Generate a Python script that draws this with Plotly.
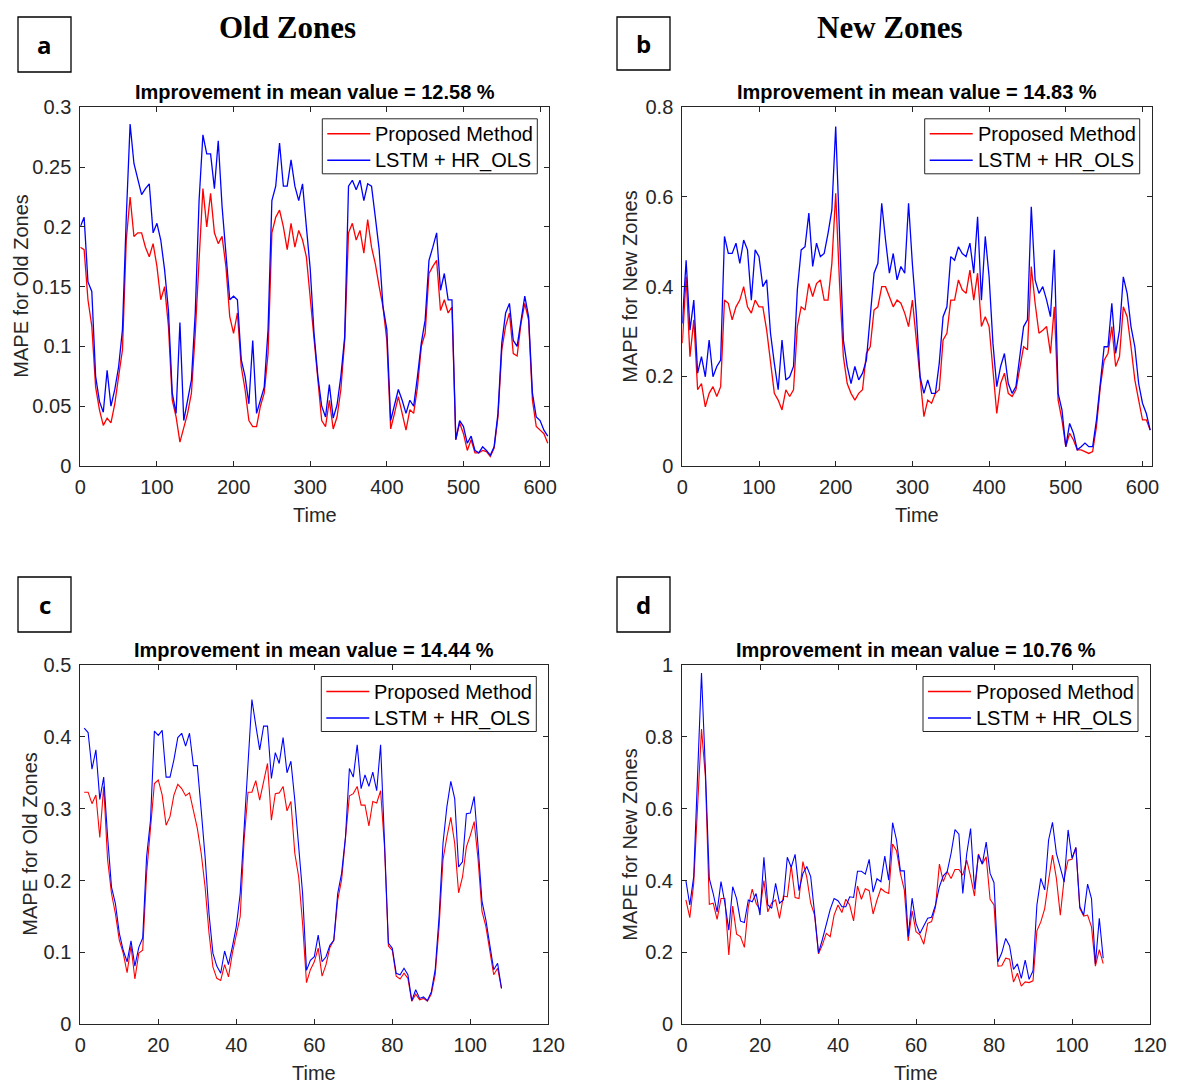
import plotly.graph_objects as go

# page body has an 8px margin, so the figure is drawn 8px smaller and shifted
OFF = 8
W, H = 1177 - OFF, 1086 - OFF

# ---------------- data ----------------
time_ab = list(range(0, 611, 5))

old_lstm = [0.200, 0.208, 0.154, 0.146, 0.075, 0.054, 0.045, 0.080, 0.050, 0.064,
            0.083, 0.114, 0.208, 0.286, 0.253, 0.241, 0.227, 0.232, 0.236, 0.195,
            0.203, 0.189, 0.164, 0.130, 0.061, 0.044, 0.120, 0.038, 0.055, 0.072,
            0.128, 0.222, 0.277, 0.261, 0.261, 0.232, 0.272, 0.217, 0.178, 0.139,
            0.142, 0.139, 0.089, 0.075, 0.052, 0.105, 0.044, 0.055, 0.066, 0.114,
            0.222, 0.234, 0.270, 0.234, 0.234, 0.256, 0.234, 0.222, 0.236, 0.200,
            0.165, 0.111, 0.075, 0.050, 0.041, 0.068, 0.040, 0.051, 0.075, 0.108,
            0.234, 0.239, 0.231, 0.239, 0.222, 0.236, 0.234, 0.208, 0.181, 0.133,
            0.114, 0.038, 0.050, 0.064, 0.055, 0.044, 0.055, 0.050, 0.075, 0.103,
            0.122, 0.172, 0.183, 0.195, 0.147, 0.161, 0.139, 0.139, 0.022, 0.038,
            0.033, 0.019, 0.025, 0.013, 0.011, 0.016, 0.013, 0.009, 0.016, 0.044,
            0.103, 0.128, 0.136, 0.105, 0.100, 0.122, 0.142, 0.125, 0.061, 0.041,
            0.038, 0.030, 0.025]

old_prop = [0.183, 0.181, 0.139, 0.117, 0.066, 0.047, 0.034, 0.040, 0.036, 0.052,
            0.075, 0.097, 0.189, 0.225, 0.192, 0.195, 0.195, 0.183, 0.175, 0.186,
            0.167, 0.139, 0.150, 0.117, 0.055, 0.041, 0.020, 0.033, 0.044, 0.061,
            0.111, 0.172, 0.232, 0.200, 0.228, 0.195, 0.186, 0.192, 0.167, 0.125,
            0.111, 0.128, 0.083, 0.064, 0.038, 0.033, 0.033, 0.050, 0.061, 0.094,
            0.195, 0.208, 0.214, 0.200, 0.181, 0.203, 0.183, 0.197, 0.189, 0.175,
            0.142, 0.105, 0.072, 0.038, 0.033, 0.055, 0.031, 0.041, 0.064, 0.105,
            0.195, 0.203, 0.189, 0.197, 0.178, 0.206, 0.183, 0.169, 0.150, 0.133,
            0.105, 0.031, 0.044, 0.058, 0.044, 0.030, 0.047, 0.044, 0.066, 0.100,
            0.111, 0.161, 0.167, 0.172, 0.130, 0.139, 0.128, 0.133, 0.022, 0.036,
            0.027, 0.013, 0.022, 0.011, 0.011, 0.013, 0.012, 0.008, 0.015, 0.041,
            0.097, 0.117, 0.128, 0.094, 0.092, 0.119, 0.136, 0.122, 0.055, 0.033,
            0.030, 0.027, 0.019]

new_lstm = [0.318, 0.459, 0.303, 0.370, 0.207, 0.244, 0.199, 0.281, 0.199, 0.222,
            0.236, 0.512, 0.474, 0.474, 0.497, 0.452, 0.504, 0.482, 0.370, 0.482,
            0.467, 0.400, 0.415, 0.296, 0.229, 0.170, 0.281, 0.192, 0.199, 0.222,
            0.393, 0.482, 0.489, 0.564, 0.445, 0.497, 0.467, 0.474, 0.519, 0.571,
            0.757, 0.519, 0.281, 0.222, 0.184, 0.222, 0.192, 0.207, 0.236, 0.333,
            0.430, 0.452, 0.586, 0.504, 0.430, 0.474, 0.415, 0.445, 0.430, 0.586,
            0.450, 0.341, 0.199, 0.162, 0.192, 0.162, 0.162, 0.229, 0.333, 0.355,
            0.467, 0.459, 0.489, 0.474, 0.467, 0.497, 0.430, 0.556, 0.370, 0.512,
            0.422, 0.274, 0.177, 0.222, 0.251, 0.184, 0.162, 0.177, 0.251, 0.311,
            0.326, 0.578, 0.415, 0.385, 0.400, 0.370, 0.333, 0.482, 0.162, 0.125,
            0.043, 0.095, 0.073, 0.036, 0.043, 0.051, 0.043, 0.043, 0.103, 0.184,
            0.266, 0.266, 0.363, 0.251, 0.303, 0.422, 0.385, 0.311, 0.266, 0.184,
            0.140, 0.117, 0.080]

new_prop = [0.274, 0.422, 0.244, 0.326, 0.170, 0.184, 0.132, 0.162, 0.177, 0.155,
            0.177, 0.370, 0.363, 0.326, 0.355, 0.370, 0.400, 0.355, 0.341, 0.370,
            0.355, 0.355, 0.303, 0.229, 0.162, 0.147, 0.125, 0.170, 0.155, 0.170,
            0.311, 0.355, 0.348, 0.407, 0.378, 0.407, 0.415, 0.370, 0.370, 0.452,
            0.608, 0.407, 0.244, 0.184, 0.162, 0.147, 0.162, 0.170, 0.251, 0.266,
            0.348, 0.355, 0.400, 0.400, 0.378, 0.355, 0.370, 0.363, 0.341, 0.311,
            0.370, 0.281, 0.192, 0.110, 0.147, 0.140, 0.162, 0.170, 0.281, 0.296,
            0.370, 0.370, 0.415, 0.393, 0.385, 0.437, 0.370, 0.430, 0.311, 0.333,
            0.311, 0.207, 0.117, 0.184, 0.207, 0.162, 0.155, 0.170, 0.222, 0.266,
            0.259, 0.445, 0.363, 0.296, 0.303, 0.311, 0.251, 0.355, 0.147, 0.103,
            0.043, 0.073, 0.058, 0.036, 0.036, 0.032, 0.028, 0.032, 0.088, 0.177,
            0.236, 0.251, 0.311, 0.222, 0.244, 0.355, 0.333, 0.266, 0.192, 0.147,
            0.103, 0.103, 0.080]

time_cd = list(range(1, 109))

old2_lstm = [0.412, 0.406, 0.355, 0.382, 0.313, 0.344, 0.261, 0.191, 0.168, 0.127,
             0.103, 0.087, 0.116, 0.081, 0.107, 0.120, 0.233, 0.284, 0.408, 0.402,
             0.409, 0.344, 0.344, 0.368, 0.399, 0.405, 0.387, 0.405, 0.360, 0.360,
             0.298, 0.233, 0.154, 0.099, 0.081, 0.071, 0.102, 0.083, 0.108, 0.136,
             0.182, 0.270, 0.363, 0.452, 0.416, 0.382, 0.415, 0.415, 0.342, 0.378,
             0.363, 0.399, 0.350, 0.366, 0.312, 0.247, 0.182, 0.075, 0.089, 0.094,
             0.124, 0.087, 0.094, 0.110, 0.117, 0.182, 0.210, 0.261, 0.356, 0.344,
             0.389, 0.328, 0.347, 0.331, 0.351, 0.325, 0.389, 0.254, 0.113, 0.106,
             0.071, 0.069, 0.078, 0.069, 0.033, 0.048, 0.036, 0.038, 0.033, 0.045,
             0.076, 0.150, 0.252, 0.303, 0.338, 0.314, 0.219, 0.226, 0.293, 0.294,
             0.317, 0.247, 0.171, 0.145, 0.108, 0.076, 0.085, 0.050]

old2_prop = [0.323, 0.323, 0.307, 0.319, 0.260, 0.331, 0.229, 0.182, 0.154, 0.117,
             0.099, 0.072, 0.109, 0.063, 0.099, 0.103, 0.210, 0.275, 0.335, 0.340,
             0.319, 0.277, 0.289, 0.319, 0.334, 0.328, 0.318, 0.322, 0.296, 0.273,
             0.238, 0.191, 0.127, 0.080, 0.064, 0.061, 0.083, 0.066, 0.099, 0.127,
             0.150, 0.256, 0.323, 0.323, 0.339, 0.312, 0.338, 0.363, 0.284, 0.321,
             0.322, 0.331, 0.297, 0.310, 0.238, 0.205, 0.140, 0.058, 0.076, 0.087,
             0.106, 0.067, 0.083, 0.107, 0.117, 0.173, 0.201, 0.256, 0.318, 0.321,
             0.331, 0.305, 0.305, 0.276, 0.310, 0.308, 0.325, 0.247, 0.109, 0.103,
             0.067, 0.063, 0.071, 0.064, 0.032, 0.042, 0.034, 0.036, 0.032, 0.042,
             0.069, 0.136, 0.229, 0.261, 0.288, 0.252, 0.183, 0.205, 0.247, 0.263,
             0.282, 0.229, 0.157, 0.136, 0.099, 0.069, 0.078, 0.050]

new2_lstm = [0.400, 0.332, 0.411, 0.680, 0.978, 0.707, 0.406, 0.364, 0.313, 0.397,
             0.337, 0.262, 0.383, 0.350, 0.287, 0.283, 0.346, 0.341, 0.364, 0.304,
             0.465, 0.332, 0.323, 0.392, 0.337, 0.346, 0.465, 0.437, 0.473, 0.372,
             0.420, 0.439, 0.411, 0.309, 0.199, 0.236, 0.281, 0.320, 0.350, 0.344,
             0.327, 0.327, 0.355, 0.353, 0.426, 0.426, 0.418, 0.459, 0.368, 0.405,
             0.397, 0.468, 0.401, 0.561, 0.513, 0.427, 0.427, 0.244, 0.351, 0.281,
             0.253, 0.272, 0.295, 0.298, 0.332, 0.383, 0.413, 0.425, 0.476, 0.542,
             0.529, 0.364, 0.474, 0.545, 0.376, 0.471, 0.446, 0.507, 0.420, 0.394,
             0.174, 0.199, 0.239, 0.218, 0.153, 0.168, 0.128, 0.179, 0.125, 0.149,
             0.332, 0.406, 0.374, 0.513, 0.562, 0.476, 0.439, 0.396, 0.541, 0.462,
             0.492, 0.327, 0.304, 0.390, 0.350, 0.168, 0.295, 0.184]

new2_prop = [0.346, 0.297, 0.392, 0.624, 0.822, 0.689, 0.334, 0.337, 0.292, 0.350,
             0.350, 0.193, 0.329, 0.251, 0.244, 0.214, 0.327, 0.376, 0.337, 0.318,
             0.400, 0.313, 0.338, 0.346, 0.295, 0.357, 0.355, 0.442, 0.353, 0.350,
             0.453, 0.409, 0.337, 0.304, 0.196, 0.221, 0.253, 0.244, 0.304, 0.332,
             0.311, 0.348, 0.332, 0.288, 0.385, 0.348, 0.377, 0.372, 0.307, 0.346,
             0.378, 0.369, 0.364, 0.502, 0.483, 0.420, 0.374, 0.232, 0.316, 0.258,
             0.249, 0.223, 0.281, 0.286, 0.327, 0.446, 0.397, 0.425, 0.406, 0.431,
             0.431, 0.415, 0.457, 0.412, 0.357, 0.474, 0.446, 0.466, 0.348, 0.332,
             0.162, 0.163, 0.184, 0.181, 0.118, 0.142, 0.106, 0.118, 0.116, 0.121,
             0.260, 0.285, 0.322, 0.401, 0.471, 0.406, 0.304, 0.406, 0.457, 0.459,
             0.492, 0.323, 0.301, 0.304, 0.271, 0.162, 0.208, 0.169]

series_names = ["Proposed Method", "LSTM + HR_OLS"]
series_colors = ["#ff0000", "#0000ff"]
panel_titles = ["Improvement in mean value = 12.58 %", "Improvement in mean value = 14.83 %",
                "Improvement in mean value = 14.44 %", "Improvement in mean value = 10.76 %"]
ylabels = ["MAPE for Old Zones", "MAPE for New Zones", "MAPE for Old Zones", "MAPE for New Zones"]
panel_letters = ["a", "b", "c", "d"]
column_titles = ["Old Zones", "New Zones"]

# ---------------- helpers (reference-pixel -> paper) ----------------
def X(px):
    return (px - OFF) / W

def Y(py):
    return 1 - (py - OFF) / H

AX = "#262626"
FAM = "Liberation Sans, Arial, Helvetica"
TICKFONT = dict(family=FAM, size=20, color=AX)
LABFONT = dict(family=FAM, size=20, color=AX)

# axes pixel boxes in reference pixels: (left, right, top, bottom)
boxes = [(80.3, 549.3, 107.3, 466.0),
         (682.3, 1151.7, 107.3, 466.0),
         (80.3, 548.3, 665.0, 1024.3),
         (682.0, 1150.0, 665.0, 1024.3)]

panels = [
    (time_ab, old_prop, old_lstm, [0, 612], [0, 0.3], [0, 0.05, 0.1, 0.15, 0.2, 0.25, 0.3],
     ["0", "0.05", "0.1", "0.15", "0.2", "0.25", "0.3"], [0, 100, 200, 300, 400, 500, 600], 1.3),
    (time_ab, new_prop, new_lstm, [0, 612], [0, 0.8], [0, 0.2, 0.4, 0.6, 0.8],
     ["0", "0.2", "0.4", "0.6", "0.8"], [0, 100, 200, 300, 400, 500, 600], 1.3),
    (time_cd, old2_prop, old2_lstm, [0, 120], [0, 0.5], [0, 0.1, 0.2, 0.3, 0.4, 0.5],
     ["0", "0.1", "0.2", "0.3", "0.4", "0.5"], [0, 20, 40, 60, 80, 100, 120], 1.1),
    (time_cd, new2_prop, new2_lstm, [0, 120], [0, 1], [0, 0.2, 0.4, 0.6, 0.8, 1.0],
     ["0", "0.2", "0.4", "0.6", "0.8", "1"], [0, 20, 40, 60, 80, 100, 120], 1.1),
]

fig = go.Figure()
layout = dict(width=W, height=H, autosize=False, showlegend=False,
              margin=dict(l=0, r=0, t=0, b=0, pad=0, autoexpand=False),
              paper_bgcolor="white", plot_bgcolor="white")
annotations = []
shapes = []

for i, (tx, prop, lstm, xr, yr, yt, ytl, xt, lw) in enumerate(panels):
    n = i + 1
    sfx = "" if n == 1 else str(n)
    l, r, t, b = boxes[i]
    for name, col, ys in zip(series_names, series_colors, [prop, lstm]):
        fig.add_trace(go.Scatter(x=tx, y=ys, mode="lines", name=name,
                                 line=dict(color=col, width=lw),
                                 xaxis="x" + sfx, yaxis="y" + sfx))
    common = dict(showline=True, linecolor=AX, linewidth=1, mirror="ticks",
                  ticks="inside", ticklen=5, tickcolor=AX, tickwidth=1,
                  showgrid=False, zeroline=False, tickfont=TICKFONT, automargin=False)
    layout["xaxis" + sfx] = dict(domain=[X(l), X(r)], range=xr, tickvals=xt,
                                 anchor="y" + sfx, ticklabelstandoff=3, **common)
    layout["yaxis" + sfx] = dict(domain=[Y(b), Y(t)], range=yr, tickvals=yt, ticktext=ytl,
                                 anchor="x" + sfx, ticklabelstandoff=4, **common)

    # legend box (drawn by hand to match the reference's compact MATLAB legend)
    lx0, lx1, ly0, ly1 = r - 227, r - 12, t + 11.5, t + 66.5
    shapes.append(dict(type="rect", xref="paper", yref="paper",
                       x0=X(lx0), x1=X(lx1), y0=Y(ly1), y1=Y(ly0),
                       line=dict(color=AX, width=1), fillcolor="white", layer="above"))
    for j, (name, col) in enumerate(zip(series_names, series_colors)):
        yy = ly0 + 15 + 26.5 * j
        shapes.append(dict(type="line", xref="paper", yref="paper",
                           x0=X(lx0 + 5), x1=X(lx0 + 48), y0=Y(yy), y1=Y(yy),
                           line=dict(color=col, width=1.5), layer="above"))
        annotations.append(dict(x=X(lx0 + 51), y=Y(yy + 0.5), xref="paper", yref="paper",
                                text=name, showarrow=False,
                                font=dict(family=FAM, size=20, color="black"),
                                xanchor="left", yanchor="middle"))

    cx = (l + r) / 2
    annotations.append(dict(x=X(cx), y=Y(t - 15), xref="paper", yref="paper",
                            text="<b>" + panel_titles[i] + "</b>", showarrow=False,
                            font=dict(family=FAM, size=20, color="black"),
                            xanchor="center", yanchor="middle"))
    annotations.append(dict(x=X(cx), y=Y(b + 49), xref="paper", yref="paper",
                            text="Time", showarrow=False, font=LABFONT,
                            xanchor="center", yanchor="middle"))
    ylx = 21 if i == 0 else (630 if i in (1, 3) else 30)
    annotations.append(dict(x=X(ylx), y=Y((t + b) / 2), xref="paper", yref="paper",
                            text=ylabels[i], showarrow=False, font=LABFONT, textangle=-90,
                            xanchor="center", yanchor="middle"))

# letter boxes
letter_boxes = [(18, 17, 71, 72), (617, 17, 670, 70), (18, 577, 71, 632), (617, 577, 670, 632)]
for (x0, y0, x1, y1), letter in zip(letter_boxes, panel_letters):
    shapes.append(dict(type="rect", xref="paper", yref="paper",
                       x0=X(x0), x1=X(x1), y0=Y(y1), y1=Y(y0),
                       line=dict(color="black", width=1.3), fillcolor="white"))
    annotations.append(dict(x=X((x0 + x1) / 2), y=Y((y0 + y1) / 2), xref="paper", yref="paper",
                            text="<b>" + letter + "</b>", showarrow=False,
                            font=dict(family="Open Sans, Noto Sans, Arial", size=24, color="black"),
                            xanchor="center", yanchor="middle"))

# column titles
for cx, txt in zip([287.5, 889.5], column_titles):
    annotations.append(dict(x=X(cx), y=Y(27), xref="paper", yref="paper",
                            text="<b>" + txt + "</b>", showarrow=False, borderpad=0,
                            font=dict(family="Liberation Serif, Times New Roman", size=31, color="black"),
                            xanchor="center", yanchor="middle"))

layout["annotations"] = annotations
layout["shapes"] = shapes
fig.update_layout(**layout)
fig.write_html("out.html")
